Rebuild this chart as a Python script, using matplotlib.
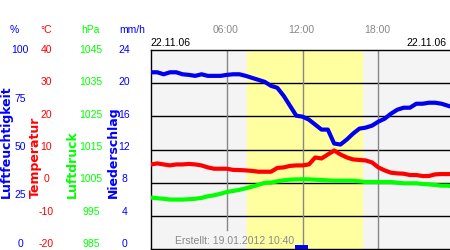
import numpy as np
import matplotlib
matplotlib.use("Agg")
import matplotlib.pyplot as plt

plt.rcParams['font.family'] = ['Liberation Sans', 'DejaVu Sans']

hours = [0, 0.5, 1, 1.5, 2, 2.5, 3, 3.5, 4, 4.5, 5, 5.5, 6, 6.5, 7, 7.5,
         8, 8.5, 9, 9.5, 10, 10.5, 11, 11.5, 12, 12.5, 13, 13.5, 14, 14.5,
         15, 15.5, 16, 16.5, 17, 17.5, 18, 18.5, 19, 19.5, 20, 20.5, 21,
         21.5, 22, 22.5, 23, 23.5, 23.75]
humidity = [88.8, 88.8, 87.8, 88.8, 88.8, 87.8, 87.5, 87, 87.8, 87, 87, 87,
            87.5, 87.8, 87.8, 87, 86, 85, 84, 82, 81, 77, 72, 67, 66.5, 65,
            62.5, 60, 60, 53, 52.5, 55, 58, 60.5, 61, 62, 64, 65.5, 68, 70,
            71, 71, 73, 73, 73.5, 73.5, 73, 72, 71.5]
temperature = [5.5, 5.8, 5.5, 5.2, 5.5, 5.5, 5.65, 5.5, 5.2, 4.6, 4.2, 4.2,
               4.2, 3.85, 3.8, 3.7, 3.55, 3.3, 3.3, 3.3, 4.45, 4.6, 5.05,
               5.2, 5.2, 5.5, 7.6, 7.3, 8.5, 9.7, 8.5, 7.6, 7.0, 6.85, 6.7,
               6.1, 4.6, 3.7, 3.0, 2.8, 2.7, 2.3, 2.3, 2.0, 2.0, 2.5, 2.6,
               2.6, 2.6]
pressure = [1000.5, 1000.3, 1000.15, 999.9, 999.9, 999.9, 1000, 1000.15,
            1000.4, 1000.9, 1001.2, 1001.65, 1002.2, 1002.5, 1002.85, 1003.3,
            1003.8, 1004.35, 1004.95, 1005, 1005.4, 1005.7, 1005.9, 1006,
            1006, 1006, 1005.9, 1005.8, 1005.7, 1005.6, 1005.6, 1005.6,
            1005.6, 1005.4, 1005.2, 1005.2, 1005.2, 1005.2, 1005.2, 1005.0,
            1004.8, 1004.8, 1004.8, 1004.6, 1004.5, 1004.3, 1004.1, 1004.1,
            1004.0]
prec_hours = [11.67, 12.17]
prec_vals = [0.5, 0.5]
sun = [7.6, 16.73]  # Sonnenauf-/untergang

hum_ticks = [100, 75, 50, 25, 0]
temp_ticks = [40, 30, 20, 10, 0, -10, -20]
pres_ticks = [1045, 1035, 1025, 1015, 1005, 995, 985]
prec_ticks = [24, 20, 16, 12, 8, 4, 0]
time_ticks = [6, 12, 18]
time_labels = ['06:00', '12:00', '18:00']

BLUE = '#0000ee'
RED = '#ff0000'
GREEN = '#00ff00'
W, H = 450, 250


def fx(x):
    return x / W


def fy(y):
    return 1 - y / H


fig = plt.figure(figsize=(4.5, 2.5), dpi=100)
ax = fig.add_axes([fx(151), fy(249), (W - 151 + 1) / W, 199 / H])
ax.set_facecolor('#f4f4f4')
ax.set_xlim(0, 23.75)
ax.set_ylim(-20, 40)
ax.axvspan(sun[0], sun[1], color='#ffffa0', zorder=0)
for yv in temp_ticks[1:-1]:
    ax.axhline(yv, color='black', lw=1, zorder=1)
for tv in time_ticks:
    ax.axvline(tv, color='#888888', lw=1, zorder=1,
               ymin=0.095 if tv == 6 else 0)
ax.set_xticks([])
ax.set_yticks([])
for s in ['left', 'top', 'bottom']:
    ax.spines[s].set_linewidth(1)
ax.spines['right'].set_visible(False)

ax_h = ax.twinx()
ax_p = ax.twinx()
ax_r = ax.twinx()
for a, lim in [(ax_h, (0, 100)), (ax_p, (985, 1045)), (ax_r, (0, 24))]:
    a.set_ylim(*lim)
    a.set_yticks([])
    a.axis('off')

ax_r.bar(prec_hours, prec_vals, width=0.5, color='#0000ff', zorder=2)
ax_p.plot(hours, pressure, color=GREEN, lw=3, solid_capstyle='butt')
ax.plot(hours, temperature, color=RED, lw=3, zorder=3)
ax_h.plot(hours, humidity, color=BLUE, lw=3)

fs = 7.5
columns = [
    (hum_ticks, 20, '#0000ff'),
    (temp_ticks, 46.5, RED),
    (pres_ticks, 91, GREEN),
    (prec_ticks, 124.5, '#0000ff'),
]
for ticks, xc, col in columns:
    vmax, vmin = ticks[0], ticks[-1]
    for v in ticks:
        ypx = 50 + (vmax - v) / (vmax - vmin) * 194
        fig.text(fx(xc), fy(ypx), str(v), color=col, fontsize=fs,
                 ha='center', va='center')

for txt, xc, col in [('%', 14, '#0000ff'), ('°C', 46, RED),
                     ('hPa', 90, GREEN), ('mm/h', 132, '#0000ff')]:
    fig.text(fx(xc), fy(30), txt, color=col, fontsize=fs,
             ha='center', va='center')

for txt, xc, col in [('Luftfeuchtigkeit', 6, '#0000ff'),
                     ('Temperatur', 35, RED),
                     ('Luftdruck', 72, GREEN),
                     ('Niederschlag', 113, '#0000ff')]:
    fig.text(fx(xc), fy(198), txt, color=col, fontsize=9,
             family='DejaVu Sans', fontweight='bold', rotation=90,
             ha='center', va='bottom')

for tv, lab in zip(time_ticks, time_labels):
    fig.text(fx(150.5 + tv * 12.58), fy(30), lab, color='#888888',
             fontsize=fs, ha='center', va='center')

fig.text(fx(150), fy(42.5), '22.11.06', fontsize=fs, ha='left', va='center')
fig.text(fx(446), fy(42.5), '22.11.06', fontsize=fs, ha='right', va='center')
fig.text(fx(175), fy(241), 'Erstellt: 19.01.2012 10:40', color='#888888',
         fontsize=7.5, ha='left', va='center')

fig.savefig('out.png', dpi=100)
